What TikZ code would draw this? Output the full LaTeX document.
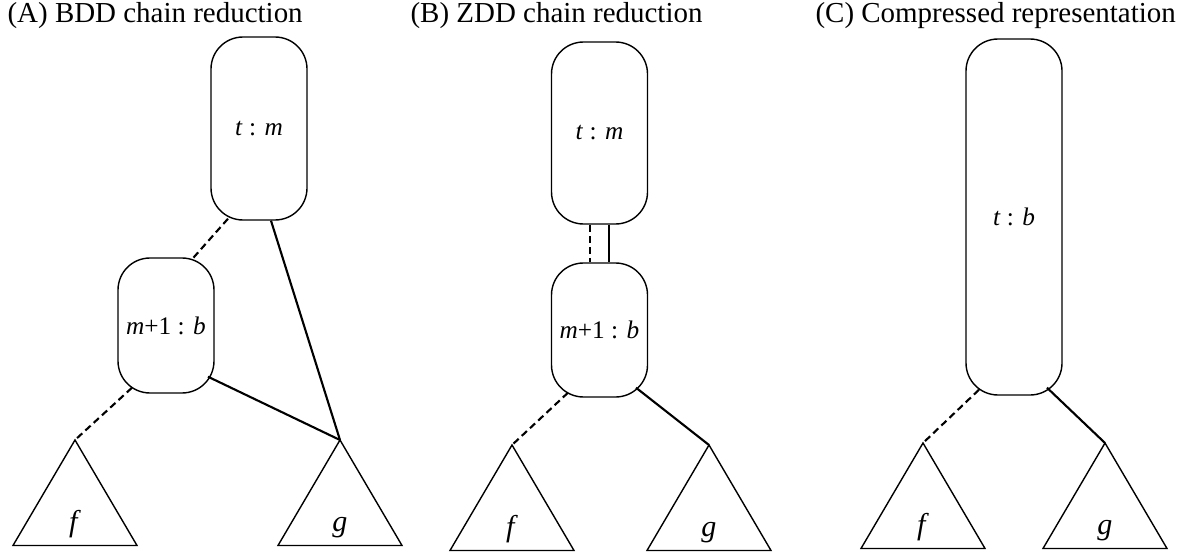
\documentclass[tikz,border=0pt]{standalone}
\usepackage{fontspec}
\setmainfont{Liberation Serif}

\tikzset{
  bddnode/.style={draw, line width=0.5pt, rounded corners=0.4cm, minimum width=1.2cm,
    inner sep=0pt, font=\fontsize{9}{11}\selectfont},
  loedge/.style={line width=0.75pt, dash pattern=on 2.5pt off 1.5pt},
  hiedge/.style={line width=0.75pt},
  subtree/.style={line width=0.5pt},
  leaflabel/.style={anchor=base, inner sep=0pt, font=\fontsize{10.7}{12}\selectfont},
}

\begin{document}
\begin{tikzpicture}[x=0.125cm, y=0.125cm]
  \useasboundingbox (0,0) rectangle (118.3,55.4);

  % titles
  \begin{scope}[every node/.style={anchor=base west, inner sep=0pt, font=\fontsize{10.3}{12}\selectfont}]
    \node (titleA) at (0.7,53.1)  {(A) BDD chain reduction};
    \node (titleB) at (41.0,53.1) {(B) ZDD chain reduction};
    \node (titleC) at (81.5,53.1) {(C) Compressed representation};
  \end{scope}

  % chain nodes
  \begin{scope}[every node/.style={bddnode}]
    \node[minimum height=2.2875cm] (tmA) at (25.9,42.55)  {\textit{t} : \textit{m}};
    \node[minimum height=1.6875cm] (mbA) at (16.6,22.85)  {\textit{m}+1 : \textit{b}};
    \node[minimum height=2.275cm]  (tmB) at (59.95,42.1)  {\textit{t} : \textit{m}};
    \node[minimum height=1.675cm]  (mbB) at (59.95,22.4)  {\textit{m}+1 : \textit{b}};
    \node[minimum height=4.45cm]   (tbC) at (101.4,33.7)  {\textit{t} : \textit{b}};
  \end{scope}

  % subtrees f and g
  \foreach \n/\x/\y/\t in {fA/7.5/11.4/f, gA/34.0/11.4/g, fB/51.2/10.9/f,
                           gB/70.9/10.9/g, fC/92.3/11.1/f, gC/110.5/11.1/g} {
    \coordinate (\n) at (\x,\y);
    \draw[subtree] (\n) -- ++(-6.2,-10.55) -- ++(12.4,0) -- cycle;
    \node[leaflabel] (\n lab) at (\x,\y-9.1) {\textit{\t}};
  }

  % (A)
  \draw[loedge] ([shift={(-3.1,0.2)}]tmA.south) -- ([shift={(2.6,-0.2)}]mbA.north);
  \draw[hiedge] ([shift={(1.2,0)}]tmA.south) -- (gA);
  \draw[hiedge] ([shift={(4.2,1.7)}]mbA.south) -- (gA);
  \draw[loedge] ([shift={(-3.4,0.6)}]mbA.south) -- (fA);

  % (B)
  \draw[loedge] ([shift={(-0.95,0)}]tmB.south) -- ([shift={(-0.95,0)}]mbB.north);
  \draw[hiedge] ([shift={(0.95,0)}]tmB.south) -- ([shift={(0.95,0)}]mbB.north);
  \draw[loedge] ([shift={(-3.15,0.5)}]mbB.south) -- (fB);
  \draw[hiedge] ([shift={(3.65,1.0)}]mbB.south) -- (gB);

  % (C)
  \draw[loedge] ([shift={(-3.5,0.6)}]tbC.south) -- (fC);
  \draw[hiedge] ([shift={(3.3,0.8)}]tbC.south) -- (gC);

\end{tikzpicture}
\end{document}
